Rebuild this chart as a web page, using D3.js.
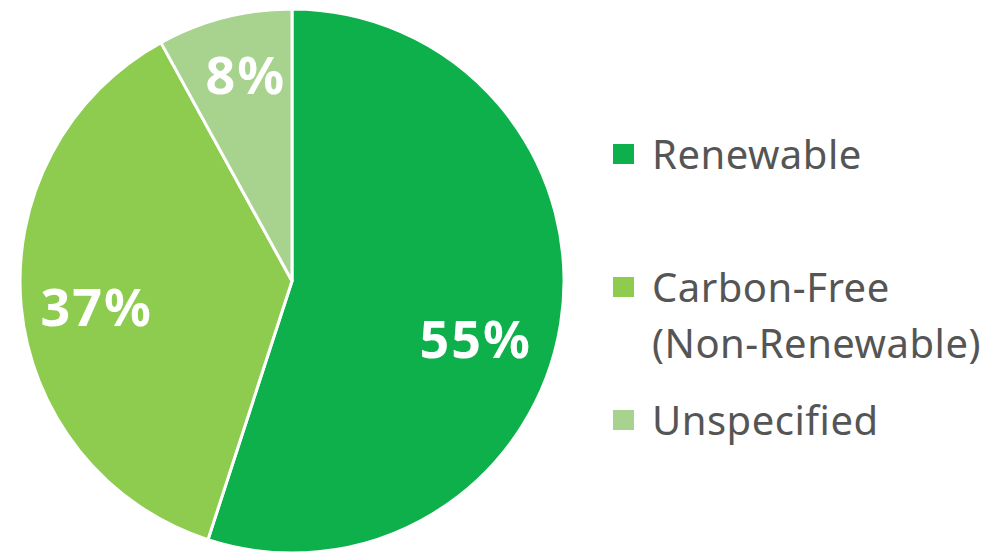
<!DOCTYPE html>
<html>
<head>
<meta charset="utf-8">
<script src="https://cdn.jsdelivr.net/npm/d3@7/dist/d3.min.js"></script>
<style>
  html, body { margin: 0; padding: 0; background: #fff; }
  svg { display: block; }
</style>
</head>
<body>
<svg id="chart" width="1001" height="554"></svg>
<script>
// Energy mix shares (percent)
const categories = ["Renewable", "Carbon-Free (Non-Renewable)", "Unspecified"];
const values = [55, 37, 8];
const legendLines = [["Renewable"], ["Carbon-Free", "(Non-Renewable)"], ["Unspecified"]];
const colors = ["#0db04b", "#8dcc4e", "#a8d38f"];

const svg = d3.select("#chart");
const cx = 292, cy = 281, R = 272;

const color = d3.scaleOrdinal().domain(categories).range(colors);

const pie = d3.pie().sort(null).value(d => d.value);
const data = pie(categories.map((c, i) => ({ name: c, value: values[i] })));

const arc = d3.arc().innerRadius(0).outerRadius(R);

const g = svg.append("g").attr("transform", `translate(${cx},${cy})`);

g.selectAll("path.slice")
  .data(data)
  .join("path")
  .attr("class", "slice")
  .attr("d", arc)
  .attr("fill", d => color(d.data.name))
  .attr("stroke", "#fff")
  .attr("stroke-width", 3)
  .attr("stroke-linejoin", "round");

// Percentage labels: placed along each slice's mid-angle, with a small
// angular nudge per slice so the text sits in the open part of the wedge.
const labelRadius = [192, 198, 211];
const labelAngleShift = [0.155, -0.04, 0.026];
g.selectAll("text.pct")
  .data(data)
  .join("text")
  .attr("class", "pct")
  .attr("transform", (d, i) => {
    const a = (d.startAngle + d.endAngle) / 2 + labelAngleShift[i];
    const r = labelRadius[i];
    return `translate(${r * Math.sin(a) + 1},${-r * Math.cos(a)})`;
  })
  .attr("text-anchor", "middle")
  .attr("dy", "0.35em")
  .attr("fill", "#fff")
  .attr("font-family", "'Noto Sans', 'Open Sans', sans-serif")
  .attr("font-weight", 700)
  .attr("font-size", 52)
  .attr("letter-spacing", 2)
  .text(d => d.data.value + "%");

// Legend
const legendFont = "'Noto Sans', 'Open Sans', sans-serif";
const legendYs = [169, 302, 435];
const lg = svg.append("g").attr("transform", "translate(613,0)");

const items = lg.selectAll("g.item")
  .data(categories)
  .join("g")
  .attr("class", "item")
  .attr("transform", (d, i) => `translate(0,${legendYs[i]})`);

items.append("rect")
  .attr("x", 0)
  .attr("y", -25)
  .attr("width", 21)
  .attr("height", 20)
  .attr("fill", d => color(d));

items.append("text")
  .attr("x", 39)
  .attr("y", 0)
  .attr("fill", "#555")
  .attr("font-family", legendFont)
  .attr("font-size", 40)
  .attr("letter-spacing", 0.5)
  .selectAll("tspan")
  .data((d, i) => legendLines[i])
  .join("tspan")
  .attr("x", 39)
  .attr("dy", (d, j) => j === 0 ? 0 : 56)
  .text(d => d);
</script>
</body>
</html>
